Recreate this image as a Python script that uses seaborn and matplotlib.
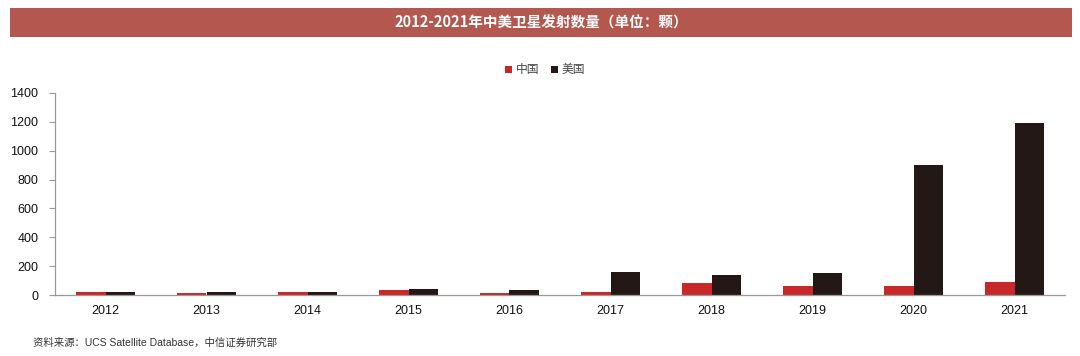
import matplotlib
matplotlib.use("Agg")
import matplotlib.pyplot as plt
import seaborn as sns
import pandas as pd
from matplotlib.patches import Rectangle, Patch

years = ["2012", "2013", "2014", "2015", "2016", "2017", "2018", "2019", "2020", "2021"]
china = [19, 11, 22, 35, 17, 24, 80, 63, 60, 91]
usa = [21, 22, 20, 40, 38, 156, 139, 150, 902, 1192]
series_names = ["中国", "美国"]
yticks = [0, 200, 400, 600, 800, 1000, 1200, 1400]
title = "2012-2021年中美卫星发射数量（单位：颗）"
source = "资料来源：UCS Satellite Database，中信证券研究部"

df = pd.DataFrame({
    "year": years * 2,
    "value": china + usa,
    "country": [series_names[0]] * len(years) + [series_names[1]] * len(years),
})

sns.set_theme(style="white")
plt.rcParams["font.family"] = ["Liberation Sans", "Noto Sans CJK SC", "DejaVu Sans"]

fig = plt.figure(figsize=(10.8, 3.56), dpi=100)
ax = fig.add_axes([55 / 1080, 1 - 295 / 356, 1010 / 1080, 202 / 356])

palette = {"中国": "#C8282A", "美国": "#231815"}
sns.barplot(data=df, x="year", y="value", hue="country", order=years,
            hue_order=series_names, palette=palette, width=0.58, gap=0,
            saturation=1, ax=ax, legend=False, edgecolor="none")

ax.set_xlim(-0.5, len(years) - 0.5)
ax.set_ylim(0, 1400)
ax.set_yticks(yticks)
ax.set_yticklabels([str(v) for v in yticks], fontsize=9, color="#111111")
ax.set_xlabel("")
ax.set_ylabel("")
ax.set_xticks(range(len(years)))
ax.set_xticklabels(years, fontsize=9, color="#111111")
ax.set_xticks([i - 0.5 for i in range(len(years) + 1)], minor=True)
ax.tick_params(axis="x", which="major", length=0, pad=7)
ax.tick_params(axis="x", which="minor", length=4, width=0.8, color="#999999", direction="out")
ax.tick_params(axis="y", length=4, width=0.8, color="#999999", direction="out", pad=8, left=True)
for s in ["top", "right"]:
    ax.spines[s].set_visible(False)
for s in ["left", "bottom"]:
    ax.spines[s].set_color("#999999")
    ax.spines[s].set_linewidth(0.9)
ax.grid(False)

handles = [Patch(facecolor=palette[n], edgecolor="none") for n in series_names]
fig.legend(handles, series_names, loc="center", bbox_to_anchor=(545 / 1080, 1 - 70 / 356),
           ncol=2, frameon=False, handlelength=0.6, handleheight=0.6, handletextpad=0.3,
           columnspacing=1.0, prop={"family": ["Noto Sans CJK SC", "DejaVu Sans"], "size": 8.5},
           labelcolor="#444444")

# title bar
fig.patches.append(Rectangle((10 / 1080, 1 - 37 / 356), 1062 / 1080, 29 / 356,
                             transform=fig.transFigure, facecolor="#B3574F", edgecolor="none"))
fig.text(541 / 1080, 1 - 22.5 / 356, title, ha="center", va="center", color="white",
         fontsize=10.5, fontweight="bold", family=["Noto Sans CJK SC", "DejaVu Sans"])

fig.text(33 / 1080, 1 - 343 / 356, source, ha="left", va="center", color="#333333",
         fontsize=7.5, family=["Liberation Sans", "Noto Sans CJK SC", "DejaVu Sans"])

fig.savefig("out.png", dpi=100)
